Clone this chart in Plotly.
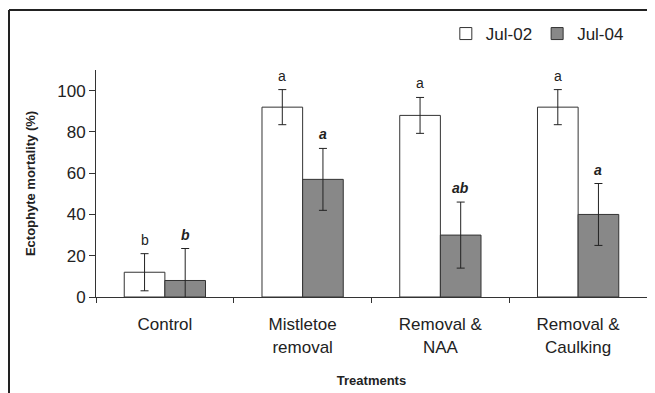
import plotly.graph_objects as go

categories = ["Control", "Mistletoe<br>removal", "Removal &<br>NAA", "Removal &<br>Caulking"]
jul02 = [12, 92, 88, 92]
jul02_err = [9, 8.5, 8.7, 8.5]
jul04 = [8, 57, 30, 40]
jul04_err = [15.5, 15, 16, 15]
jul02_letters = ["b", "a", "a", "a"]
jul04_letters = ["b", "a", "ab", "a"]

BARGAP = 0.41
FONT = "Liberation Sans, Arial, sans-serif"

# page body has an 8px margin, so the figure is sized to fill the rest of the window
W, H = 647, 385
L, T, PW, PH = 88, 62, 551, 227

fig = go.Figure()
fig.add_trace(go.Bar(
    name="Jul-02", x=categories, y=jul02,
    marker=dict(color="white", line=dict(color="#333333", width=1)),
    error_y=dict(type="data", array=jul02_err, color="#222222", thickness=1, width=4),
))
fig.add_trace(go.Bar(
    name="Jul-04", x=categories, y=jul04,
    marker=dict(color="#888888", line=dict(color="#333333", width=1)),
    error_y=dict(type="data", array=jul04_err, color="#222222", thickness=1, width=4),
))

off = (1 - BARGAP) / 4
annotations = []
for i in range(len(categories)):
    annotations.append(dict(
        x=i - off, y=jul02[i] + jul02_err[i], xref="x", yref="y",
        text=jul02_letters[i], showarrow=False, yanchor="bottom", yshift=4,
        font=dict(size=14, color="#222222", family=FONT)))
    annotations.append(dict(
        x=i + off, y=jul04[i] + jul04_err[i], xref="x", yref="y",
        text="<b><i>" + jul04_letters[i] + "</i></b>", showarrow=False,
        yanchor="bottom", yshift=4,
        font=dict(size=14, color="#222222", family=FONT)))

top_y = 1 + (T - 2) / PH
left_x = (1 - L) / PW
fig.update_layout(
    width=W, height=H,
    margin=dict(l=L, r=W - L - PW, t=T, b=H - T - PH),
    paper_bgcolor="white", plot_bgcolor="white",
    barmode="group", bargap=BARGAP, bargroupgap=0,
    font=dict(family=FONT, color="#222222"),
    showlegend=True,
    legend=dict(orientation="h", x=0.967, xanchor="right", y=1 + (T - 26) / PH, yanchor="middle",
                font=dict(size=17, color="#222222"), bgcolor="rgba(0,0,0,0)",
                traceorder="normal"),
    annotations=annotations,
    shapes=[
        dict(type="line", xref="paper", yref="paper",
             x0=left_x, x1=(W + 5 - L) / PW, y0=top_y, y1=top_y,
             line=dict(color="#222222", width=2)),
        dict(type="line", xref="paper", yref="paper",
             x0=left_x, x1=left_x, y0=top_y, y1=-(H + 5 - T - PH) / PH,
             line=dict(color="#222222", width=2)),
    ],
)
fig.update_xaxes(
    showline=True, linecolor="#333333", linewidth=1,
    ticks="outside", tickson="boundaries", ticklen=5, tickcolor="#333333",
    tickfont=dict(size=17, color="#222222"), ticklabelstandoff=12,
    title=dict(text="<b>Treatments</b>", font=dict(size=13, color="#222222"), standoff=20),
    showgrid=False, zeroline=False,
)
fig.update_yaxes(
    range=[0, 110], tickvals=[0, 20, 40, 60, 80, 100],
    showline=True, linecolor="#333333", linewidth=1,
    ticks="outside", ticklen=6, tickcolor="#333333",
    tickfont=dict(size=17, color="#222222"),
    title=dict(text="<b>Ectophyte mortality (%)</b>", font=dict(size=13, color="#222222"), standoff=18),
    showgrid=False, zeroline=False,
)

fig.write_html("out.html")
